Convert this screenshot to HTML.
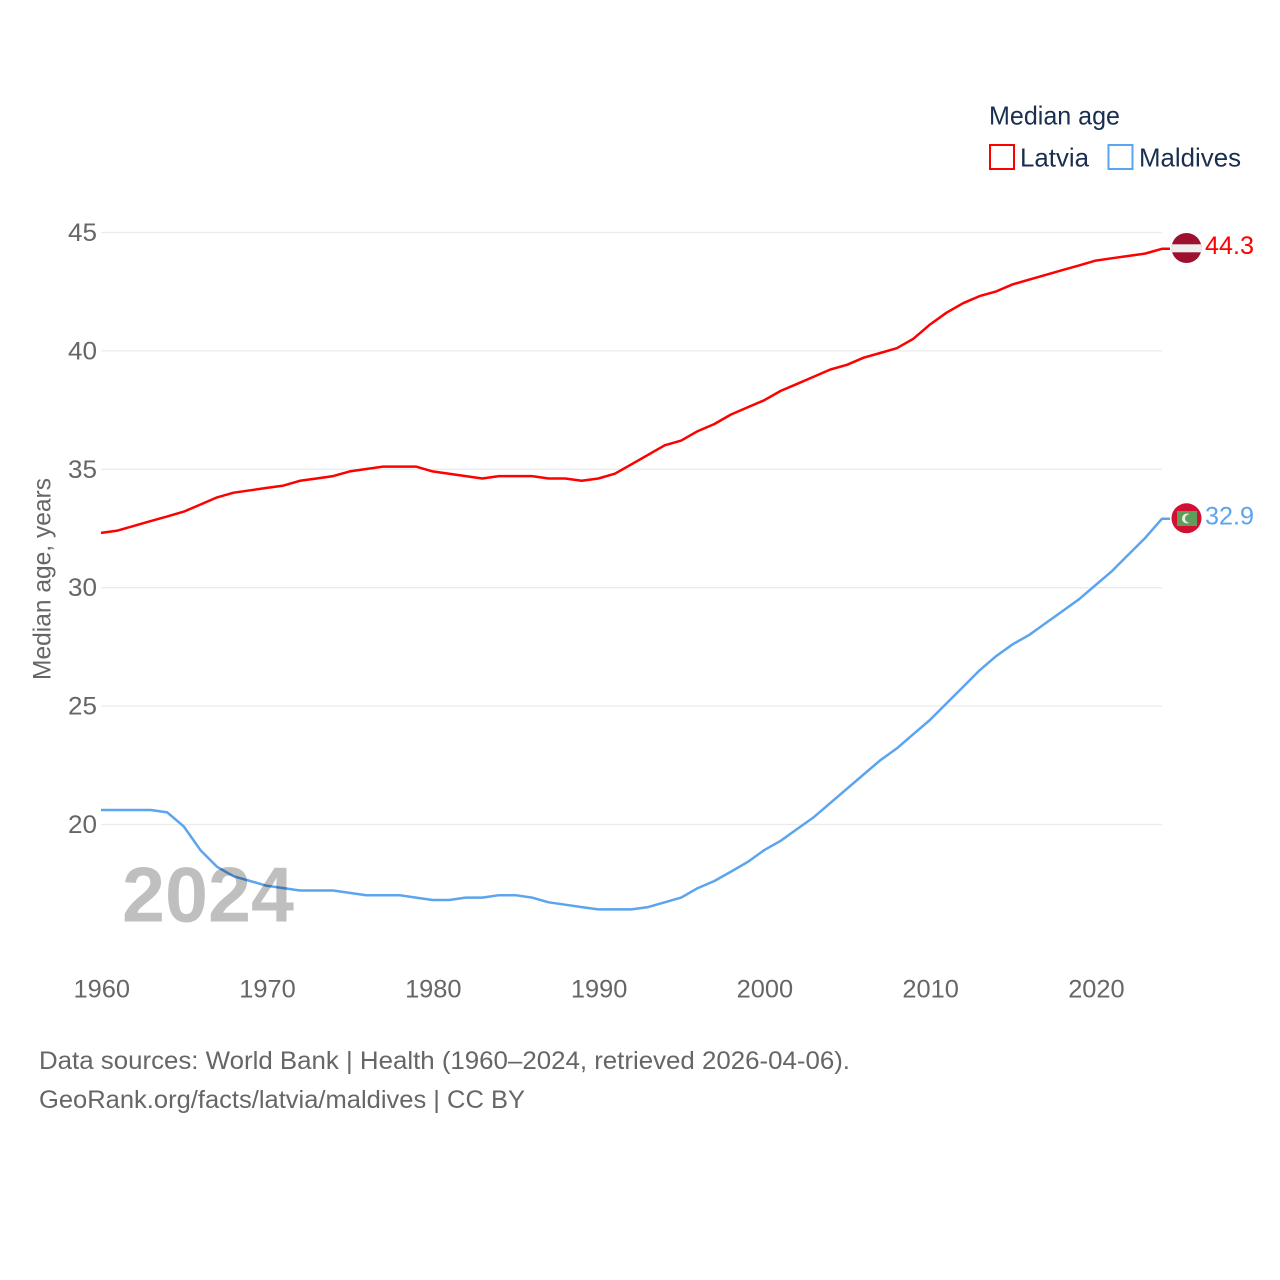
<!DOCTYPE html>
<html lang="en">
<head>
<meta charset="utf-8">
<title>Median age: Latvia and Maldives</title>
<style>
html,body{margin:0;padding:0;background:#fff;}
svg{display:block;font-family:"Liberation Sans",sans-serif;}
</style>
</head>
<body>
<svg id="chart" xmlns="http://www.w3.org/2000/svg" width="1280" height="1280" viewBox="0 0 1280 1280">
  <rect width="1280" height="1280" fill="#fff"/>
  <g id="grid"></g>
  <g id="yticks"></g>
  <g id="xticks"></g>
  <text transform="translate(50.5,680) rotate(-90)" font-size="25" fill="#666" textLength="202" lengthAdjust="spacingAndGlyphs">Median age, years</text>
  <g id="series"></g>
  <text x="122" y="921.500" font-size="78" font-weight="700" fill="#000" fill-opacity="0.25" textLength="172" lengthAdjust="spacingAndGlyphs">2024</text>

  <g fill="#1a2e4f" font-size="26">
    <text x="989" y="124.500" textLength="131" lengthAdjust="spacingAndGlyphs">Median age</text>
    <rect x="990" y="145" width="24" height="24" fill="none" stroke="#ff0000" stroke-width="2"/>
    <text x="1020" y="166.500" textLength="69" lengthAdjust="spacingAndGlyphs">Latvia</text>
    <rect x="1108.500" y="145" width="24" height="24" fill="none" stroke="#5ba4ee" stroke-width="2"/>
    <text x="1139" y="166.500" textLength="102" lengthAdjust="spacingAndGlyphs">Maldives</text>
  </g>

  <g>
    <clipPath id="clipLv"><circle cx="1186.500" cy="248" r="15"/></clipPath>
    <g clip-path="url(#clipLv)">
      <rect x="1170" y="232" width="33" height="33" fill="#9e1030"/>
      <rect x="1170" y="244.300" width="33" height="8" fill="#eeeeee"/>
    </g>
  </g>
  <text id="valueLatvia" x="1205" y="254" font-size="25" fill="#ff0000" textLength="49" lengthAdjust="spacingAndGlyphs"></text>

  <g>
    <circle cx="1186.500" cy="518.300" r="15" fill="#d21034"/>
    <rect x="1177" y="511" width="20" height="15" fill="#5f9e58"/>
    <circle cx="1187" cy="518.500" r="5" fill="#e8efe6"/>
    <circle cx="1189.300" cy="518.500" r="4.300" fill="#5f9e58"/>
  </g>
  <text id="valueMaldives" x="1205" y="524.500" font-size="25" fill="#5ba4ee" textLength="49" lengthAdjust="spacingAndGlyphs"></text>

  <text x="39" y="1069" font-size="25" fill="#666" textLength="811" lengthAdjust="spacingAndGlyphs">Data sources: World Bank | Health (1960–2024, retrieved 2026-04-06).</text>
  <text x="39" y="1108" font-size="25" fill="#666" textLength="486" lengthAdjust="spacingAndGlyphs">GeoRank.org/facts/latvia/maldives | CC BY</text>
</svg>
<script>
const startYear = 1960;
const latvia = [32.3,32.4,32.6,32.8,33.0,33.2,33.5,33.8,34.0,34.1,34.2,34.3,34.5,34.6,34.7,34.9,35.0,35.1,35.1,35.1,34.9,34.8,34.7,34.6,34.7,34.7,34.7,34.6,34.6,34.5,34.6,34.8,35.2,35.6,36.0,36.2,36.6,36.9,37.3,37.6,37.9,38.3,38.6,38.9,39.2,39.4,39.7,39.9,40.1,40.5,41.1,41.6,42.0,42.3,42.5,42.8,43.0,43.2,43.4,43.6,43.8,43.9,44.0,44.1,44.3];
const maldives = [20.6,20.6,20.6,20.6,20.5,19.9,18.9,18.2,17.8,17.6,17.4,17.3,17.2,17.2,17.2,17.1,17.0,17.0,17.0,16.9,16.8,16.8,16.9,16.9,17.0,17.0,16.9,16.7,16.6,16.5,16.4,16.4,16.4,16.5,16.7,16.9,17.3,17.6,18.0,18.4,18.9,19.3,19.8,20.3,20.9,21.5,22.1,22.7,23.2,23.8,24.4,25.1,25.8,26.5,27.1,27.6,28.0,28.5,29.0,29.5,30.1,30.7,31.4,32.1,32.9];
const yTicks = [20,25,30,35,40,45];
const xTicks = [1960,1970,1980,1990,2000,2010,2020];

const NS = 'http://www.w3.org/2000/svg';
const xScale = year => 101 + (year - 1960) * (1162 - 101) / 64;
const yScale = val => 824.5 - (val - 20) * (824.5 - 232.5) / 25;
const make = (tag, parentId, props) => {
  const el = document.createElementNS(NS, tag);
  for (const k in props) el.setAttribute(k, props[k]);
  document.getElementById(parentId).appendChild(el);
  return el;
};

yTicks.forEach(t => {
  const line = make('line', 'grid', {x1: 101, x2: 1162, y1: yScale(t), y2: yScale(t), stroke: '#ebebeb', 'stroke-width': 1.3});
  
  
  const label = make('text', 'yticks', {x: 97, y: yScale(t) + 8.5, 'text-anchor': 'end', 'font-size': 25, fill: '#666', textLength: 29, lengthAdjust: 'spacingAndGlyphs'});
  label.textContent = t;
  
  
});

xTicks.forEach(t => {
  const label = make('text', 'xticks', {x: xScale(t) - 27.5, y: 997.5, 'font-size': 25, fill: '#666', textLength: 56.5, lengthAdjust: 'spacingAndGlyphs'});
  label.textContent = t;
  
  
});

const drawLine = (values, color, name) => {
  const pts = values.map((v, i) => xScale(startYear + i).toFixed(1) + ',' + (yScale(v) - 0.3).toFixed(1));
  const last = values[values.length - 1];
  pts.push((xScale(startYear + values.length - 1) + 8).toFixed(1) + ',' + (yScale(last) - 0.3).toFixed(1));
  const line = make('polyline', 'series', {points: pts.join(' '), fill: 'none', stroke: color, 'stroke-width': 2.5, 'stroke-linejoin': 'round'});
  
  
};
drawLine(latvia, '#ff0000', 'latvia-line');
drawLine(maldives, '#5ba4ee', 'maldives-line');

document.getElementById('valueLatvia').textContent = latvia[latvia.length - 1].toFixed(1);
document.getElementById('valueMaldives').textContent = maldives[maldives.length - 1].toFixed(1);
</script>
</body>
</html>
